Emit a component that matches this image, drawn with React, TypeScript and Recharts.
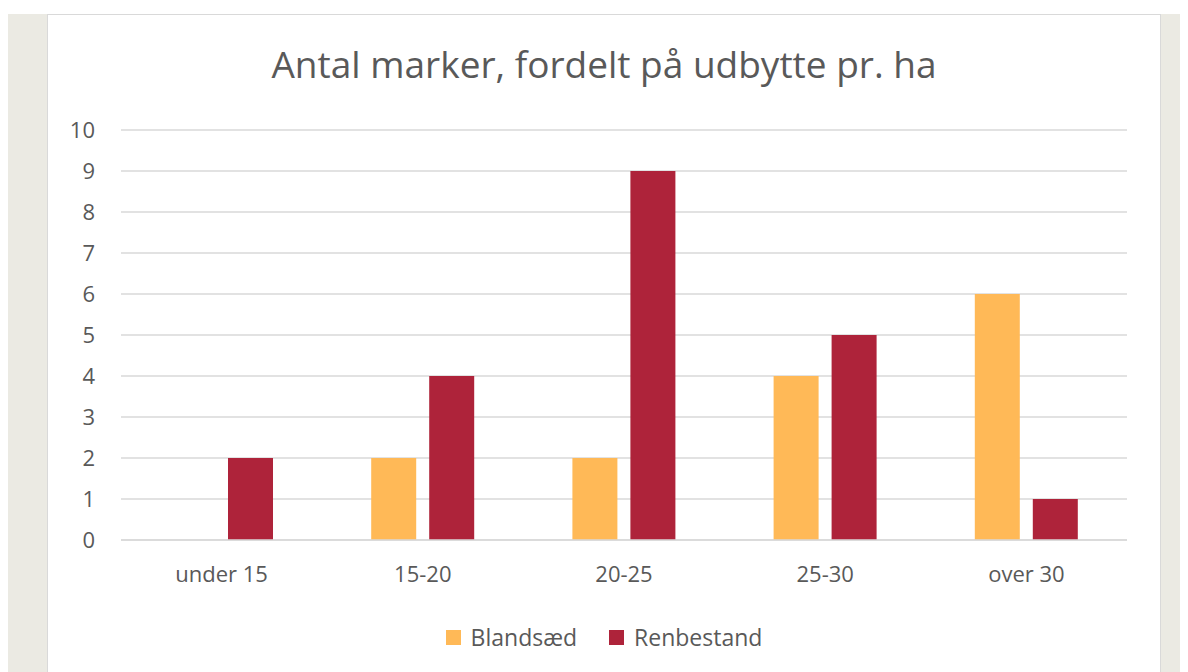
import { Bar, BarChart, CartesianGrid, XAxis, YAxis } from 'recharts';

const categories = ['under 15', '15-20', '20-25', '25-30', 'over 30'];
const blandsaed = [null, 2, 2, 4, 6];
const renbestand = [2, 4, 9, 5, 1];
const yTicks = [0, 1, 2, 3, 4, 5, 6, 7, 8, 9, 10];

const COL = {
  bland: '#FFB957',
  ren: '#AE233A',
  text: '#595959',
  grid: '#D9D9D9',
  page: '#EBEAE3',
};

const FONT = "'Open Sans', 'Noto Sans', sans-serif";

const data = categories.map((name, i) => ({
  name,
  Blandsæd: blandsaed[i],
  Renbestand: renbestand[i],
}));

const series = [
  { key: 'Blandsæd', fill: COL.bland },
  { key: 'Renbestand', fill: COL.ren },
];

function LegendBox() {
  return (
    <div
      style={{
        position: 'absolute',
        left: 0,
        top: 607,
        width: '100%',
        display: 'flex',
        justifyContent: 'center',
        gap: 32,
        fontFamily: FONT,
        fontSize: 23,
        color: COL.text,
        lineHeight: '30px',
      }}
    >
      {series.map((s) => (
        <div key={s.key} style={{ display: 'flex', alignItems: 'center', gap: 10 }}>
          <span style={{ width: 15, height: 15, background: s.fill, display: 'inline-block' }} />
          <span>{s.key}</span>
        </div>
      ))}
    </div>
  );
}

export default function App() {
  return (
    <div style={{ position: 'relative', width: 1180, height: 664, marginTop: 6, background: COL.page, overflow: 'hidden' }}>
      <div
        style={{
          position: 'absolute',
          left: 39,
          top: 0,
          width: 1112,
          height: 680,
          background: '#fff',
          border: `1px solid ${COL.grid}`,
        }}
      >
        <div
          style={{
            position: 'absolute',
            left: 0,
            top: 26,
            width: '100%',
            textAlign: 'center',
            fontFamily: FONT,
            fontSize: 37,
            color: COL.text,
            lineHeight: '46px',
          }}
        >
          Antal marker, fordelt på udbytte pr. ha
        </div>
        <BarChart
          width={1112}
          height={658}
          data={data}
          margin={{ top: 115, right: 33, left: 0, bottom: 83 }}
          barSize={45}
          barGap={13}
        >
          <CartesianGrid vertical={false} stroke={COL.grid} strokeWidth={1.5} />
          <XAxis
            dataKey='name'
            axisLine={{ stroke: COL.grid, strokeWidth: 1.5 }}
            tickLine={false}
            tickSize={0}
            tickMargin={26}
            height={50}
            tick={{ fill: COL.text, fontSize: 22, fontFamily: FONT }}
          />
          <YAxis
            domain={[0, 10]}
            ticks={yTicks}
            interval={0}
            axisLine={false}
            tickLine={false}
            tickSize={0}
            tickMargin={26}
            width={73}
            tick={{ fill: COL.text, fontSize: 22, fontFamily: FONT }}
          />
          {series.map((s) => (
            <Bar key={s.key} dataKey={s.key} fill={s.fill} isAnimationActive={false} />
          ))}
        </BarChart>
        <LegendBox />
      </div>
    </div>
  );
}
